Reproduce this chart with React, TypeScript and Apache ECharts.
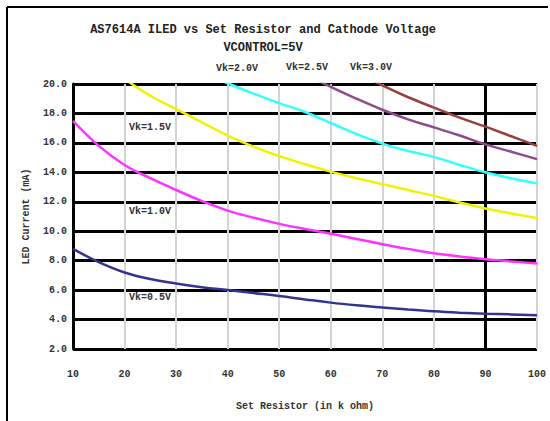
import React, { useEffect, useRef } from "react";
import * as echarts from "echarts";

const titleLine1 = "AS7614A ILED vs Set Resistor and Cathode Voltage";
const titleLine2 = "VCONTROL=5V";
const xAxisName = "Set Resistor (in k ohm)";
const yAxisName = "LED Current (mA)";

const xTicks = [10, 20, 30, 40, 50, 60, 70, 80, 90, 100];
const yTicks = [2, 4, 6, 8, 10, 12, 14, 16, 18, 20];

const xNavy = [10, 15, 20, 25, 30, 35, 40, 45, 50, 55, 60, 65, 70, 75, 80, 85, 90, 95, 100];
const yNavy = [8.8, 7.9, 7.2, 6.75, 6.45, 6.2, 6.0, 5.8, 5.6, 5.37, 5.15, 4.97, 4.82, 4.68, 4.56, 4.47, 4.4, 4.35, 4.3];

const xMagenta = [10, 15, 20, 25, 30, 35, 40, 45, 50, 55, 60, 65, 70, 75, 80, 85, 90, 95, 100];
const yMagenta = [17.5, 15.8, 14.5, 13.6, 12.8, 12.05, 11.4, 10.92, 10.5, 10.15, 9.83, 9.47, 9.12, 8.8, 8.5, 8.28, 8.1, 7.95, 7.8];

const xYellow = [20, 25, 30, 35, 40, 45, 50, 55, 60, 65, 70, 75, 80, 85, 90, 95, 100];
const yYellow = [20.35, 19.2, 18.3, 17.4, 16.5, 15.75, 15.1, 14.55, 14.05, 13.6, 13.2, 12.8, 12.4, 11.95, 11.55, 11.2, 10.9];

const xCyan = [35, 40, 45, 50, 55, 60, 65, 70, 75, 80, 85, 90, 95, 100];
const yCyan = [20.8, 20.05, 19.35, 18.7, 18.1, 17.35, 16.6, 15.95, 15.45, 15.05, 14.5, 14.0, 13.6, 13.25];

const xPurple = [55, 60, 65, 70, 75, 80, 85, 90, 95, 100];
const yPurple = [20.7, 19.8, 19.0, 18.25, 17.6, 17.05, 16.5, 15.9, 15.4, 14.9];

const xBrown = [65, 70, 75, 80, 85, 90, 95, 100];
const yBrown = [20.8, 19.9, 19.1, 18.4, 17.72, 17.1, 16.45, 15.8];

const seriesNames = ["Vk=0.5V", "Vk=1.0V", "Vk=1.5V", "Vk=2.0V", "Vk=2.5V", "Vk=3.0V"];
const seriesColors = ["#34348f", "#ff33ff", "#f2f200", "#33ffff", "#8e4b8e", "#964040"];

const pair = (xs: number[], ys: number[]) => xs.map((x, i) => [x, ys[i]]);

export default function App() {
  const ref = useRef<HTMLDivElement>(null);
  useEffect(() => {
    if (!ref.current) return;
    const chart = echarts.init(ref.current, null, { renderer: "svg" });
    const font = "Liberation Mono";
    const datasets = [
      pair(xNavy, yNavy),
      pair(xMagenta, yMagenta),
      pair(xYellow, yYellow),
      pair(xCyan, yCyan),
      pair(xPurple, yPurple),
      pair(xBrown, yBrown),
    ];
    const series: any[] = datasets.map((d, i) => ({
      type: "line",
      name: seriesNames[i],
      data: d,
      showSymbol: false,
      smooth: 0.4,
      clip: true,
      lineStyle: { color: seriesColors[i], width: 2.5 },
      z: 5,
    }));
    series.push({
      type: "line",
      data: [],
      markLine: {
        silent: true,
        symbol: "none",
        label: { show: false },
        lineStyle: { color: "#000", width: 3, type: "solid" },
        data: [{ xAxis: 90 }],
      },
      z: 3,
    });
    const labelStyle = { fontFamily: font, fontSize: 10, fontWeight: "bold", fill: "#333" };
    chart.setOption({
      animation: false,
      backgroundColor: "#fff",
      title: {
        text: titleLine1 + "\n" + titleLine2,
        left: 258,
        top: 16,
        textAlign: "center",
        textStyle: { fontFamily: font, fontSize: 12, fontWeight: "bold", color: "#222", lineHeight: 18 },
      },
      grid: { left: 73, right: 13, top: 84, bottom: 72, containLabel: false },
      xAxis: {
        type: "value",
        min: xTicks[0],
        max: xTicks[xTicks.length - 1],
        interval: 10,
        name: xAxisName,
        nameLocation: "middle",
        nameGap: 52,
        nameTextStyle: { fontFamily: font, fontSize: 10, fontWeight: "bold", color: "#333" },
        axisLine: { show: false },
        axisTick: { show: false },
        axisLabel: { fontFamily: font, fontSize: 10, fontWeight: "bold", color: "#333", margin: 20 },
        splitLine: { show: true, lineStyle: { color: "#d4d4d4", width: 2 } },
      },
      yAxis: {
        type: "value",
        min: yTicks[0],
        max: yTicks[yTicks.length - 1],
        interval: 2,
        name: yAxisName,
        nameLocation: "middle",
        nameGap: 42,
        nameTextStyle: { fontFamily: font, fontSize: 10, fontWeight: "bold", color: "#333" },
        axisLine: { show: true, onZero: false, lineStyle: { color: "#000", width: 3 } },
        axisTick: { show: false },
        axisLabel: {
          fontFamily: font,
          fontSize: 10,
          fontWeight: "bold",
          color: "#333",
          margin: 6,
          formatter: (v: number) => v.toFixed(1),
        },
        splitLine: { show: true, lineStyle: { color: "#000", width: 3 } },
      },
      graphic: [
        { type: "line", shape: { x1: 7, y1: 7, x2: 548, y2: 7 }, style: { stroke: "#000", lineWidth: 2 } },
        { type: "line", shape: { x1: 7, y1: 7, x2: 7, y2: 421 }, style: { stroke: "#000", lineWidth: 2 } },
        { type: "text", x: 237, y: 68, style: { text: seriesNames[3], align: "center", verticalAlign: "middle", ...labelStyle } },
        { type: "text", x: 307, y: 67, style: { text: seriesNames[4], align: "center", verticalAlign: "middle", ...labelStyle } },
        { type: "text", x: 371, y: 67, style: { text: seriesNames[5], align: "center", verticalAlign: "middle", ...labelStyle } },
        { type: "text", x: 150, y: 127, style: { text: seriesNames[2], align: "center", verticalAlign: "middle", ...labelStyle } },
        { type: "text", x: 150, y: 211, style: { text: seriesNames[1], align: "center", verticalAlign: "middle", ...labelStyle } },
        { type: "text", x: 150, y: 297, style: { text: seriesNames[0], align: "center", verticalAlign: "middle", ...labelStyle } },
      ],
      series,
    });
    return () => chart.dispose();
  }, []);
  return <div ref={ref} style={{ width: 550, height: 421, position: "absolute", left: 0, top: 0 }} />;
}
